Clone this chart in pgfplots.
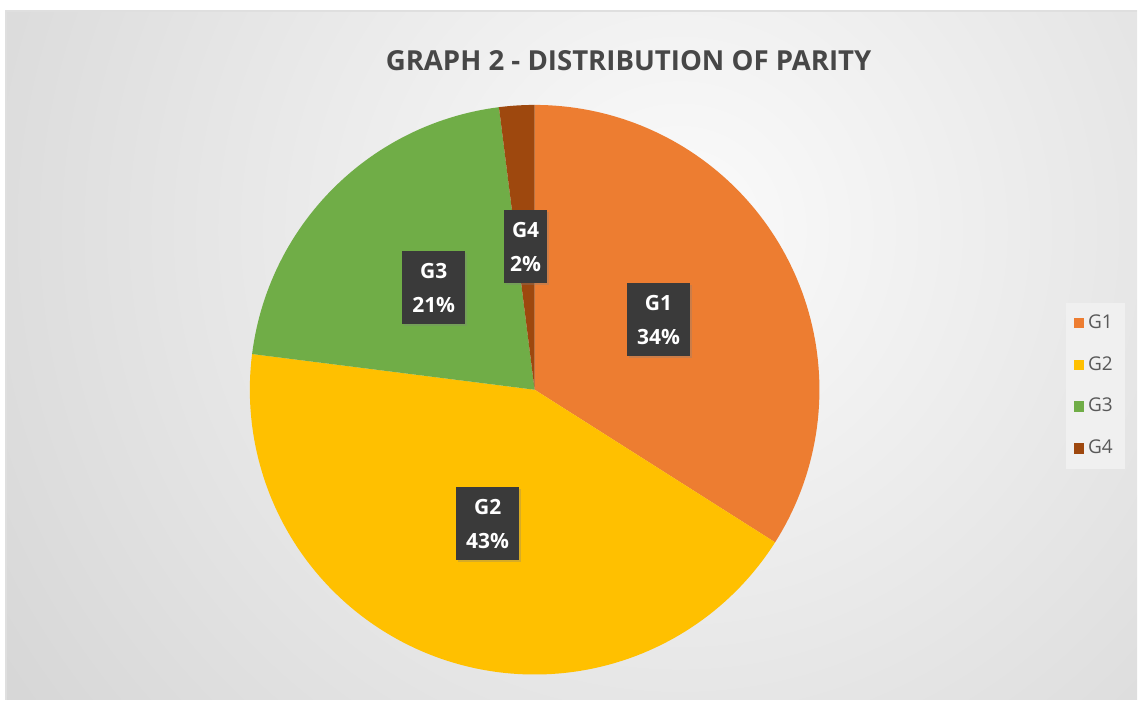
\documentclass[border=0pt]{standalone}
\usepackage{pgfplots}
\pgfplotsset{compat=1.18}
\usepackage{fontspec}
\setmainfont{Open Sans}
\usetikzlibrary{shadows}
\definecolor{cG1}{HTML}{ED7D31}
\definecolor{cG2}{HTML}{FFC000}
\definecolor{cG3}{HTML}{70AD47}
\definecolor{cG4}{HTML}{9E480E}
\definecolor{txt}{HTML}{595959}
\definecolor{ttl}{HTML}{474747}
\definecolor{lbl}{HTML}{3A3A3A}
% data (percent)
\def\vA{34}\def\vB{43}\def\vC{21}\def\vD{2}
\pgfmathsetmacro{\aA}{90}
\pgfmathsetmacro{\aB}{\aA-3.6*\vA}
\pgfmathsetmacro{\aC}{\aB-3.6*\vB}
\pgfmathsetmacro{\aD}{\aC-3.6*\vC}
\pgfmathsetmacro{\aE}{\aD-3.6*\vD}
\begin{document}
\begin{tikzpicture}
\begin{axis}[
  hide axis, scale only axis, clip=false,
  x=0.5pt, y=0.5pt,
  xmin=0, xmax=1138, ymin=0, ymax=700,
  legend style={at={(axis cs:1096,314)}, anchor=center, fill=white!88!gray, draw=none,
    font=\fontsize{9.5}{12}\selectfont\color{txt}, row sep=8.5pt, inner sep=4pt},
  legend cell align=left,
  legend image code/.code={\fill[#1] (0pt,-2.6pt) rectangle (5.2pt,2.6pt);},
]
% background
\fill[white] (axis cs:0,0) rectangle (axis cs:1138,700);
\begin{scope}
\clip (axis cs:6,0) rectangle (axis cs:1138,689);
\fill[white!64!gray] (axis cs:6,0) rectangle (axis cs:1138,689);
\shade[inner color=white!97!gray, outer color=white!64!gray] (axis cs:680,470) circle (470pt);
\end{scope}
\draw[white!75!gray, line width=0.8pt] (axis cs:6,0) -- (axis cs:6,689) -- (axis cs:1138,689);
% slices
\addplot[fill=cG1, draw=none, domain=\aB:\aA, samples=90] ({535+285*cos(x)},{310+285*sin(x)}) -- (axis cs:535,310) -- cycle;
\addlegendentry{G1}
\addplot[fill=cG2, draw=none, domain=\aC:\aB, samples=110] ({535+285*cos(x)},{310+285*sin(x)}) -- (axis cs:535,310) -- cycle;
\addlegendentry{G2}
\addplot[fill=cG3, draw=none, domain=\aD:\aC, samples=60] ({535+285*cos(x)},{310+285*sin(x)}) -- (axis cs:535,310) -- cycle;
\addlegendentry{G3}
\addplot[fill=cG4, draw=none, domain=\aE:\aD, samples=10] ({535+285*cos(x)},{310+285*sin(x)}) -- (axis cs:535,310) -- cycle;
\addlegendentry{G4}
% labels
\tikzset{lab/.style={fill=lbl, text=white, font=\bfseries\fontsize{10.5}{17}\selectfont, align=center,
  inner xsep=5pt, inner ysep=6pt, drop shadow={shadow xshift=1pt, shadow yshift=-1pt, opacity=0.3}}}
\node[lab] at (axis cs:659,380) {G1\\34\%};
\node[lab] at (axis cs:488,176) {G2\\43\%};
\node[lab] at (axis cs:434,412) {G3\\21\%};
\node[lab, inner xsep=3pt] at (axis cs:526,453) {G4\\2\%};
% title
\node[font=\bfseries\fontsize{13.8}{16}\selectfont, text=ttl] at (axis cs:629,639) {GRAPH 2 - DISTRIBUTION OF PARITY};
\end{axis}
\end{tikzpicture}
\end{document}
